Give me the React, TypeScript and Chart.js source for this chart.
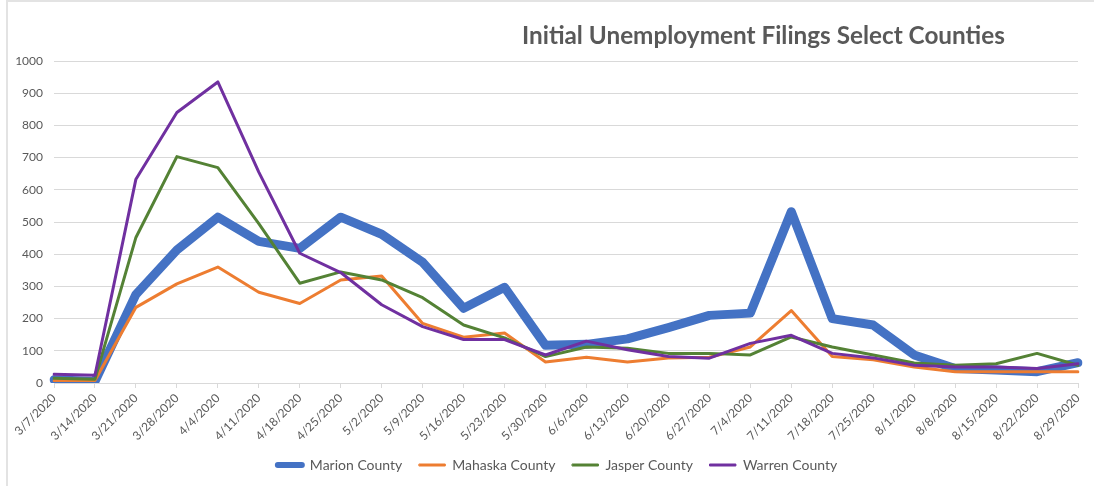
import React, { useEffect, useRef } from "react";
import { Chart, registerables } from "chart.js";

Chart.register(...registerables);

const categories = [
  "3/7/2020", "3/14/2020", "3/21/2020", "3/28/2020", "4/4/2020", "4/11/2020",
  "4/18/2020", "4/25/2020", "5/2/2020", "5/9/2020", "5/16/2020", "5/23/2020",
  "5/30/2020", "6/6/2020", "6/13/2020", "6/20/2020", "6/27/2020", "7/4/2020",
  "7/11/2020", "7/18/2020", "7/25/2020", "8/1/2020", "8/8/2020", "8/15/2020",
  "8/22/2020", "8/29/2020",
];

const marion = [10, 5, 275, 413, 515, 440, 418, 515, 462, 375, 232, 297, 117, 120, 137, 172, 210, 217, 532, 200, 180, 87, 45, 40, 35, 63];
const mahaska = [8, 8, 235, 308, 360, 282, 247, 320, 332, 185, 142, 155, 65, 80, 65, 78, 80, 112, 225, 82, 72, 50, 35, 35, 35, 35];
const jasper = [15, 12, 452, 703, 669, 495, 310, 345, 320, 265, 180, 140, 82, 112, 108, 92, 92, 87, 143, 112, 87, 62, 55, 60, 92, 55];
const warren = [27, 24, 633, 840, 935, 655, 403, 343, 243, 175, 135, 135, 87, 130, 103, 82, 77, 123, 148, 92, 78, 55, 50, 50, 45, 60];

const seriesNames = ["Marion County", "Mahaska County", "Jasper County", "Warren County"];
const yTicks = { min: 0, max: 1000, step: 100 };
const titleText = "Initial Unemployment Filings Select Counties";

const TEXT = "#595959";
const GRID = "#d9d9d9";

const legendShift = {
  id: "legendShift",
  afterLayout(chart: any) {
    const l = chart.legend;
    if (l) {
      l.left += 14;
      l.right += 14;
    }
  },
};

export default function App() {
  const ref = useRef<HTMLCanvasElement | null>(null);

  useEffect(() => {
    document.body.style.margin = "0";
    const canvas = ref.current;
    if (!canvas) return;
    const chart = new Chart(canvas, {
      type: "line",
      data: {
        labels: categories,
        datasets: [
          { label: seriesNames[0], data: marion, borderColor: "#4472C4", backgroundColor: "#4472C4", borderWidth: 9, order: 4 },
          { label: seriesNames[1], data: mahaska, borderColor: "#ED7D31", backgroundColor: "#ED7D31", borderWidth: 3, order: 3 },
          { label: seriesNames[2], data: jasper, borderColor: "#548235", backgroundColor: "#548235", borderWidth: 3, order: 2 },
          { label: seriesNames[3], data: warren, borderColor: "#7030A0", backgroundColor: "#7030A0", borderWidth: 3, order: 1 },
        ].map((d) => ({
          ...d,
          pointRadius: 0,
          pointHoverRadius: 0,
          tension: 0,
          borderJoinStyle: "round" as const,
          borderCapStyle: "round" as const,
          fill: false,
        })),
      },
      plugins: [legendShift],
      options: {
        animation: false,
        responsive: false,
        maintainAspectRatio: false,
        layout: { padding: { top: 61, left: 8, right: 16, bottom: 4 } },
        plugins: {
          title: { display: false },
          tooltip: { enabled: false },
          legend: {
            display: true,
            position: "bottom",
            labels: {
              font: { family: "Lato", size: 14 },
              color: TEXT,
              boxWidth: 26,
              boxHeight: 2,
              padding: 17,
              sort: (a: any, b: any) => a.datasetIndex - b.datasetIndex,
              generateLabels: (c: any) => {
                const items = Chart.defaults.plugins.legend.labels.generateLabels(c);
                return items.map((it: any) => ({
                  ...it,
                  lineWidth: it.datasetIndex === 0 ? 4 : 1,
                  borderRadius: it.datasetIndex === 0 ? 1 : 0,
                  lineCap: "round",
                  lineJoin: "round",
                }));
              },
            },
          },
        },
        scales: {
          x: {
            type: "category",
            offset: false,
            grid: { display: true, drawOnChartArea: false, drawTicks: true, tickLength: 5, color: GRID },
            border: { display: true, color: GRID, width: 1 },
            ticks: {
              autoSkip: false,
              maxRotation: 45,
              minRotation: 45,
              color: TEXT,
              font: { family: "Lato", size: 12 },
              padding: 3,
            },
            afterFit: (s: any) => {
              s.height = 58;
            },
          },
          y: {
            min: yTicks.min,
            max: yTicks.max,
            grid: { color: GRID, drawTicks: false, lineWidth: 1 },
            border: { display: false },
            ticks: {
              stepSize: yTicks.step,
              color: TEXT,
              font: { family: "Lato", size: 12 },
              padding: 11,
              callback: (v: any) => String(v),
            },
            afterFit: (s: any) => {
              s.width = 46;
            },
          },
        },
      },
    });
    return () => chart.destroy();
  }, []);

  return (
    <div style={{ position: "relative", width: 1094, height: 486, overflow: "hidden", background: "#fff" }}>
      <div
        style={{
          position: "absolute",
          left: 6,
          top: 0,
          width: 1200,
          height: 600,
          borderLeft: "2px solid #e3e3e3",
          borderTop: "2px solid #e3e3e3",
          boxSizing: "border-box",
        }}
      />
      <canvas ref={ref} width={1094} height={486} style={{ position: "absolute", left: 0, top: 0, width: 1094, height: 486 }} />
      <div
        style={{
          position: "absolute",
          left: 522,
          top: 20,
          fontFamily: "Lato, sans-serif",
          fontWeight: 700,
          fontSize: 24.3,
          color: TEXT,
          whiteSpace: "nowrap",
          lineHeight: "30px",
        }}
      >
        {titleText}
      </div>
    </div>
  );
}
